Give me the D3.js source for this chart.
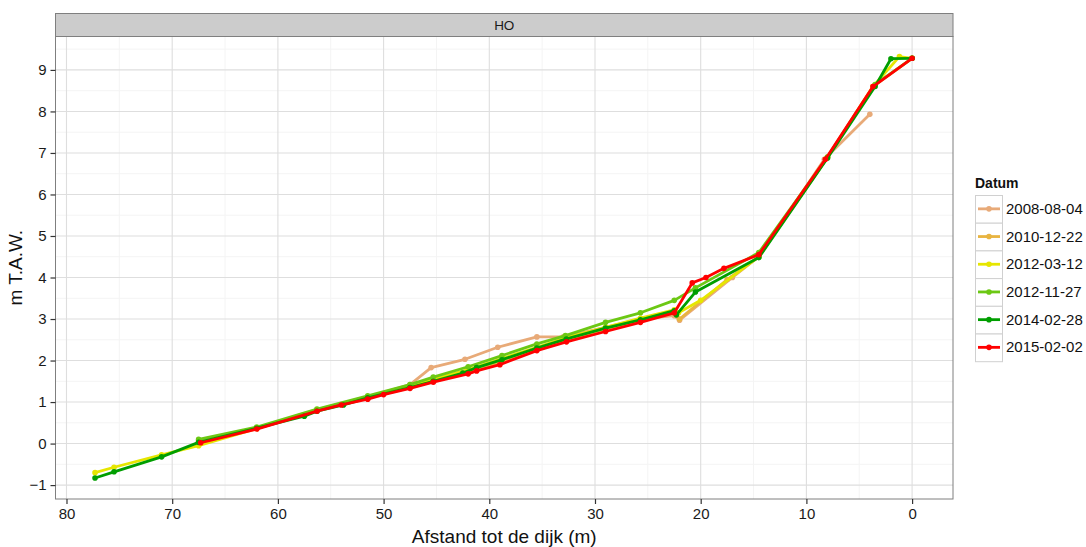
<!DOCTYPE html>
<html><head><meta charset="utf-8">
<script src="https://cdn.jsdelivr.net/npm/d3@7"></script>
<style>body{margin:0;background:#fff;} text{font-family:"Liberation Sans",Arial,sans-serif;}</style>
</head><body><svg id="c" width="1086" height="547"></svg>
<script>
const seriesNames = ["2008-08-04","2010-12-22","2012-03-12","2012-11-27","2014-02-28","2015-02-02"];
const seriesColors = ["#E8AA78","#E8B440","#E6E600","#6CC814","#009E00","#FF0000"];
const xTicks = [80,70,60,50,40,30,20,10,0];
const yTicks = [-1,0,1,2,3,4,5,6,7,8,9];

const x2008 = [67.5,62,56.3,51.5,47.5,45.5,42.3,39.2,35.5,33,29,25.7,22.5,22,17,14.5,8.3,4];
const y2008 = [0.07,0.38,0.82,1.12,1.42,1.83,2.03,2.32,2.57,2.57,2.8,3.0,3.08,2.97,4.0,4.5,6.85,7.93];
const x2010 = [67.5,62,56.3,51.5,47.5,45.3,42,38.8,35.5,32.7,29,25.7,22.5,22,17.5,14.5,8,3.7,0];
const y2010 = [0.05,0.37,0.8,1.1,1.36,1.52,1.72,1.98,2.28,2.5,2.75,2.96,3.15,3.0,3.95,4.5,6.9,8.6,9.28];
const x2012a = [77.3,75.5,71,67.5,62,56.3,51.5,47.5,45.3,42,38.8,35.5,32.7,29,25.7,22.5,22.1,20,14.5,8,3.7,1.2,0];
const y2012a = [-0.7,-0.57,-0.27,-0.05,0.36,0.8,1.12,1.38,1.55,1.78,2.05,2.32,2.55,2.8,3.02,3.22,3.15,3.45,4.5,6.9,8.6,9.32,9.28];
const x2012b = [67.5,62,56.3,51.5,47.5,45.3,42,38.8,35.5,32.8,29,25.7,22.5,20.5,14.5,8,3.5,0];
const y2012b = [0.1,0.4,0.83,1.15,1.42,1.6,1.85,2.12,2.4,2.6,2.92,3.15,3.45,3.75,4.6,6.9,8.65,9.28];
const x2014 = [77.3,75.5,71,67.5,62,57.5,56.3,53.8,51.5,47.5,45.3,42.5,41.2,38.8,35.5,32.7,29,25.7,22.5,22.3,20.5,14.5,8,3.5,2,0];
const y2014 = [-0.83,-0.68,-0.32,0.03,0.37,0.66,0.78,0.93,1.1,1.35,1.5,1.7,1.83,2.02,2.3,2.52,2.78,2.98,3.2,3.1,3.65,4.48,6.88,8.6,9.27,9.28];
const x2015 = [67.3,62,56.3,54,51.5,50,47.5,45.3,42,41.2,39,35.5,32.7,29,25.7,22.5,20.8,19.5,17.8,14.5,8.2,3.7,0];
const y2015 = [0.02,0.35,0.78,0.93,1.07,1.18,1.33,1.48,1.68,1.75,1.9,2.24,2.45,2.7,2.92,3.15,3.87,4.0,4.22,4.55,6.85,8.6,9.28];

const xs = [x2008,x2010,x2012a,x2012b,x2014,x2015];
const ys = [y2008,y2010,y2012a,y2012b,y2014,y2015];
const series = seriesNames.map((n,i)=>({name:n,color:seriesColors[i],pts:xs[i].map((v,j)=>[v,ys[i][j]])}));

const svg = d3.select("#c");
const L=55.5, R=953, T=36.5, B=499;
const x = d3.scaleLinear().domain([81.04,-3.87]).range([L,R]);
const y = d3.scaleLinear().domain([-1.335,9.805]).range([B,T]);

// strip
svg.append("rect").attr("x",L).attr("y",13.5).attr("width",R-L).attr("height",T-13.5)
  .attr("fill","#CCCCCC").attr("stroke","#7F7F7F").attr("stroke-width",1);
svg.append("text").attr("x",(L+R)/2).attr("y",30).attr("text-anchor","middle")
  .attr("font-size",13.5).attr("fill","#1a1a1a").text("HO");

// panel bg
svg.append("rect").attr("x",L).attr("y",T).attr("width",R-L).attr("height",B-T).attr("fill","#fff");
const g = svg.append("g");
const xMinor = d3.range(75,-5,-10), yMinor = d3.range(-0.5,10,1);
g.selectAll(".xm").data(xMinor).enter().append("line")
  .attr("x1",d=>x(d)).attr("x2",d=>x(d)).attr("y1",T).attr("y2",B).attr("stroke","#F4F4F4").attr("stroke-width",1);
g.selectAll(".ym").data(yMinor).enter().append("line")
  .attr("y1",d=>y(d)).attr("y2",d=>y(d)).attr("x1",L).attr("x2",R).attr("stroke","#F4F4F4").attr("stroke-width",1);
g.selectAll(".xM").data(xTicks).enter().append("line")
  .attr("x1",d=>x(d)).attr("x2",d=>x(d)).attr("y1",T).attr("y2",B).attr("stroke","#DEDEDE").attr("stroke-width",1.1);
g.selectAll(".yM").data(yTicks).enter().append("line")
  .attr("y1",d=>y(d)).attr("y2",d=>y(d)).attr("x1",L).attr("x2",R).attr("stroke","#DEDEDE").attr("stroke-width",1.1);

// lines
const line = d3.line().x(d=>x(d[0])).y(d=>y(d[1]));
const lw = 2.8, pr = 2.8;
series.forEach(s=>{
  svg.append("path").datum(s.pts).attr("d",line).attr("fill","none")
    .attr("stroke",s.color).attr("stroke-width",lw).attr("stroke-linejoin","round");
  svg.selectAll(null).data(s.pts).enter().append("circle")
    .attr("cx",d=>x(d[0])).attr("cy",d=>y(d[1])).attr("r",pr).attr("fill",s.color);
});

// panel border
svg.append("rect").attr("x",L).attr("y",T).attr("width",R-L).attr("height",B-T)
  .attr("fill","none").attr("stroke","#7F7F7F").attr("stroke-width",1);

// axes
const xAxis = svg.append("g").attr("transform",`translate(0,${B})`)
  .call(d3.axisBottom(x).tickValues(xTicks).tickSize(5).tickPadding(4).tickFormat(d3.format("d")));
const yAxis = svg.append("g").attr("transform",`translate(${L},0)`)
  .call(d3.axisLeft(y).tickValues(yTicks).tickSize(5).tickPadding(4).tickFormat(d3.format("d")));
[xAxis,yAxis].forEach(a=>{
  a.select(".domain").remove();
  a.selectAll(".tick line").attr("stroke","#333").attr("stroke-width",1.2);
  a.selectAll(".tick text").attr("font-size",15).attr("fill","#1a1a1a").attr("font-family","Liberation Sans, Arial, sans-serif");
});

// titles
svg.append("text").attr("x",(L+R)/2).attr("y",543).attr("text-anchor","middle")
  .attr("font-size",19).attr("fill","#111").text("Afstand tot de dijk (m)");
svg.append("text").attr("transform",`translate(22,${(T+B)/2}) rotate(-90)`).attr("text-anchor","middle")
  .attr("font-size",19).attr("fill","#111").text("m T.A.W.");

// legend
const lg = svg.append("g").attr("transform","translate(975,0)");
lg.append("text").attr("x",0).attr("y",188).attr("font-size",14).attr("font-weight","bold").attr("fill","#111").text("Datum");
const ky = 195, kh = 27.7, kw = 27;
series.forEach((s,i)=>{
  const yy = ky + i*kh;
  lg.append("rect").attr("x",0.5).attr("y",yy+0.5).attr("width",kw).attr("height",kh).attr("fill","#fff").attr("stroke","#D0D0D0").attr("stroke-width",1);
  lg.append("line").attr("x1",3).attr("x2",kw-2).attr("y1",yy+kh/2).attr("y2",yy+kh/2).attr("stroke",s.color).attr("stroke-width",lw);
  lg.append("circle").attr("cx",kw/2+0.5).attr("cy",yy+kh/2).attr("r",pr).attr("fill",s.color);
  lg.append("text").attr("x",kw+4).attr("y",yy+kh/2+5).attr("font-size",15).attr("fill","#111").text(s.name);
});
</script></body></html>
